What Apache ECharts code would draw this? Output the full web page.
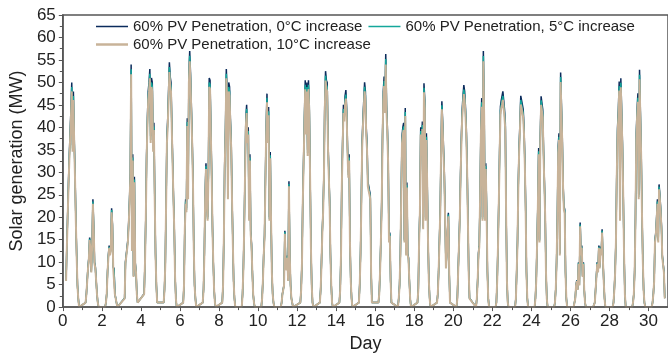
<!DOCTYPE html>
<html>
<head>
<meta charset="utf-8">
<title>Solar generation</title>
<script src="https://cdn.jsdelivr.net/npm/echarts@6/dist/echarts.min.js"></script>
<style>
	html, body { margin: 0; padding: 0; background: #fff; }
	#chart { width: 668px; height: 358px; }
</style>
</head>
<body>
<div id="chart"></div>
<script>
	// hourly values, hours 4..20 of each day (night = 0)
	var firstHour = 4;

	var seriesNames = [
		'60% PV Penetration, 0°C increase',
		'60% PV Penetration, 5°C increase',
		'60% PV Penetration, 10°C increase'
	];

	// 0°C increase (MW)
	var pv0C = [
		[6,14,21,28,34,39,44,50,36,48,38,30,20,12,5,2,0],
		[1,3,6,9,11,15.5,13,8,14,24,18,10,9,6,3,1,0],
		[0,1,3,8,11.5,13.7,12,13,22,18.5,9,8.5,3,2,1,0,0],
		[2,10,10,10,15,19,24,30,54,13,34,7,29,10,8,3,1],
		[3,10,20,34,42,48,50,53,38,51,50,36,41,25,12,5,1],
		[1,4,10,24,38,42,48,54.5,51.3,50,41,33,25,18,7,2,0],
		[1,5,18,24,22,42,25,52,57,52,45,38,29,13.7,5,2,0],
		[1,4,12,25,32,24,20,30,51,50.5,40,30,18,10,4,1,0],
		[1,5,16,32,40,53,48,25,50,49,42,37,25,15,6,2,0],
		[0,3,9,18,30,42,45,38,40,20,34,17,14,8,3,1,0],
		[0,2,6,12,16,28,40,47.5,38,44.5,20,34.5,20,8,3,1,0],
		[0,1,3,3,5,17,10,8.5,11.5,6,28,12,5,2,1,0,0],
		[1,4,10,24,24,42,50.5,40,50,35,50.5,45,30,14,5,1,0],
		[1,4,10,17,22,30,45,52.5,50.5,50,37,30.5,24,12,5,1,0],
		[1,4,12,28,37,45,43,47,48.3,44,35.8,30,34,15,6,2,0],
		[1,5,12,24,37,42,46,50,48,40,36.5,28,27,26,25,8,1],
		[1,3,8,15,23,38,48,51.3,45,56.3,45,40,32.8,15,16.6,6,1],
		[0,2,5,12,25,38,40,41,15,44.3,12,27.7,12,11,6,2,0],
		[1,4,15,22,40,35,41.3,18,49.8,46,20,38.7,27.7,15,6,2,0],
		[1,3,8,15,21.8,35,45.8,41,41,30,20.3,9,12,17,21,8,1],
		[0,2,8,14,20,30,38,44,47,49.4,48,44.6,40,32,20,8,2],
		[0,2,6,12,14,25,40,46.5,20,57,44,20,32,22,8,2,0],
		[0,1,6,14,24,35,44.6,46,47,48,46,44,41,21,6,1,0],
		[0,2,8,15,28,36,41,47,46,45,44,40,33,22.5,8,2,0],
		[0,2,6,14,23,35.4,15,38,46.9,45.4,44,35,28.4,21,8,2,0],
		[0,1,4,10,20,35.8,38.7,12,52.2,45,38,27.7,22.5,21.8,8,2,0],
		[0,0,2,5,6,4,10,5,18.8,12,13.7,7,10,4,1,0,0],
		[0,0,1,4,7,10,8,13.7,9,13.5,12,17.3,10.7,6,2,0,0],
		[0,1,4,8,15,30,40.2,44,50.2,20,50.9,44,36.5,25,12,3,0],
		[0,1,3,8,20,38.7,44,47.6,25,52.8,53.1,35,21.8,11,4,1,0],
		[0,1,3,6,15,16.6,20,24,15,27.3,25,22,18,11.5,11.5,8,2]
	];

	// 5°C increase (MW)
	var pv5C = [
		[5.9,13.7,20.6,27.4,33.3,38.2,43.1,49,35.3,47,37.2,29.4,19.6,11.8,4.9,2,0],
		[1,2.9,5.9,8.8,10.8,15.2,12.7,7.8,13.7,23.5,17.6,9.8,8.8,5.9,2.9,1,0],
		[0,1,2.9,7.8,11.3,13.4,11.8,12.7,21.6,18.1,8.8,8.3,2.9,2,1,0,0],
		[2,9.8,9.8,9.8,14.7,18.6,23.5,29.4,52.9,12.7,33.3,6.9,28.4,9.8,7.8,2.9,1],
		[2.9,9.8,19.6,33.3,41.2,47,49,51.9,37.2,50,49,35.3,40.2,24.5,11.8,4.9,1],
		[1,3.9,9.8,23.5,37.2,41.2,47,53.4,50.3,49,40.2,32.3,24.5,17.6,6.9,2,0],
		[1,4.9,17.6,23.5,21.6,41.2,24.5,51,55.9,51,44.1,37.2,28.4,13.4,4.9,2,0],
		[1,3.9,11.8,24.5,31.4,23.5,19.6,29.4,50,49.5,39.2,29.4,17.6,9.8,3.9,1,0],
		[1,4.9,15.7,31.4,39.2,51.9,47,24.5,49,48,41.2,36.3,24.5,14.7,5.9,2,0],
		[0,2.9,8.8,17.6,29.4,41.2,44.1,37.2,39.2,19.6,33.3,16.7,13.7,7.8,2.9,1,0],
		[0,2,5.9,11.8,15.7,27.4,39.2,46.6,37.2,43.6,19.6,33.8,19.6,7.8,2.9,1,0],
		[0,1,2.9,2.9,4.9,16.7,9.8,8.3,11.3,5.9,27.4,11.8,4.9,2,1,0,0],
		[1,3.9,9.8,23.5,23.5,41.2,49.5,39.2,49,34.3,49.5,44.1,29.4,13.7,4.9,1,0],
		[1,3.9,9.8,16.7,21.6,29.4,44.1,51.5,49.5,49,36.3,29.9,23.5,11.8,4.9,1,0],
		[1,3.9,11.8,27.4,36.3,44.1,42.1,46.1,47.3,43.1,35.1,29.4,33.3,14.7,5.9,2,0],
		[1,4.9,11.8,23.5,36.3,41.2,45.1,49,47,39.2,35.8,27.4,26.5,25.5,24.5,7.8,1],
		[1,2.9,7.8,14.7,22.5,37.2,47,50.3,44.1,55.2,44.1,39.2,32.1,14.7,16.3,5.9,1],
		[0,2,4.9,11.8,24.5,37.2,39.2,40.2,14.7,43.4,11.8,27.1,11.8,10.8,5.9,2,0],
		[1,3.9,14.7,21.6,39.2,34.3,40.5,17.6,48.8,45.1,19.6,37.9,27.1,14.7,5.9,2,0],
		[1,2.9,7.8,14.7,21.4,34.3,44.9,40.2,40.2,29.4,19.9,8.8,11.8,16.7,20.6,7.8,1],
		[0,2,7.8,13.7,19.6,29.4,37.2,43.1,46.1,48.4,47,43.7,39.2,31.4,19.6,7.8,2],
		[0,2,5.9,11.8,13.7,24.5,39.2,45.6,19.6,55.9,43.1,19.6,31.4,21.6,7.8,2,0],
		[0,1,5.9,13.7,23.5,34.3,43.7,45.1,46.1,47,45.1,43.1,40.2,20.6,5.9,1,0],
		[0,2,7.8,14.7,27.4,35.3,40.2,46.1,45.1,44.1,43.1,39.2,32.3,22.1,7.8,2,0],
		[0,2,5.9,13.7,22.5,34.7,14.7,37.2,46,44.5,43.1,34.3,27.8,20.6,7.8,2,0],
		[0,1,3.9,9.8,19.6,35.1,37.9,11.8,51.2,44.1,37.2,27.1,22.1,21.4,7.8,2,0],
		[0,0,2,4.9,5.9,3.9,9.8,4.9,18.4,11.8,13.4,6.9,9.8,3.9,1,0,0],
		[0,0,1,3.9,6.9,9.8,7.8,13.4,8.8,13.2,11.8,17,10.5,5.9,2,0,0],
		[0,1,3.9,7.8,14.7,29.4,39.4,43.1,49.2,19.6,49.9,43.1,35.8,24.5,11.8,2.9,0],
		[0,1,2.9,7.8,19.6,37.9,43.1,46.6,24.5,51.7,52,34.3,21.4,10.8,3.9,1,0],
		[0,1,2.9,5.9,14.7,16.3,19.6,23.5,14.7,26.8,24.5,21.6,17.6,11.3,11.3,7.8,2]
	];

	// 10°C increase (MW)
	var pv10C = [
		[5.8,13.4,20.2,26.9,32.6,37.4,42.2,48,34.6,46.1,36.5,28.8,19.2,11.5,4.8,1.9,0],
		[1,2.9,5.8,8.6,10.6,14.9,12.5,7.7,13.4,23,17.3,9.6,8.6,5.8,2.9,1,0],
		[0,1,2.9,7.7,11,13.2,11.5,12.5,21.1,17.8,8.6,8.2,2.9,1.9,1,0,0],
		[1.9,9.6,9.6,9.6,14.4,18.2,23,28.8,51.8,12.5,32.6,6.7,27.8,9.6,7.7,2.9,1],
		[2.9,9.6,19.2,32.6,40.3,46.1,48,50.9,36.5,49,48,34.6,39.4,24,11.5,4.8,1],
		[1,3.8,9.6,23,36.5,40.3,46.1,52.3,49.2,48,39.4,31.7,24,17.3,6.7,1.9,0],
		[1,4.8,17.3,23,21.1,40.3,24,49.9,54.7,49.9,43.2,36.5,27.8,13.2,4.8,1.9,0],
		[1,3.8,11.5,24,30.7,23,19.2,28.8,49,48.5,38.4,28.8,17.3,9.6,3.8,1,0],
		[1,4.8,15.4,30.7,38.4,50.9,46.1,24,48,47,40.3,35.5,24,14.4,5.8,1.9,0],
		[0,2.9,8.6,17.3,28.8,40.3,43.2,36.5,38.4,19.2,32.6,16.3,13.4,7.7,2.9,1,0],
		[0,1.9,5.8,11.5,15.4,26.9,38.4,45.6,36.5,42.7,19.2,33.1,19.2,7.7,2.9,1,0],
		[0,1,2.9,2.9,4.8,16.3,9.6,8.2,11,5.8,26.9,11.5,4.8,1.9,1,0,0],
		[1,3.8,9.6,23,23,40.3,48.5,38.4,48,33.6,48.5,43.2,28.8,13.4,4.8,1,0],
		[1,3.8,9.6,16.3,21.1,28.8,43.2,50.4,48.5,48,35.5,29.3,23,11.5,4.8,1,0],
		[1,3.8,11.5,26.9,35.5,43.2,41.3,45.1,46.4,42.2,34.4,28.8,32.6,14.4,5.8,1.9,0],
		[1,4.8,11.5,23,35.5,40.3,44.2,48,46.1,38.4,35,26.9,25.9,25,24,7.7,1],
		[1,2.9,7.7,14.4,22.1,36.5,46.1,49.2,43.2,54,43.2,38.4,31.5,14.4,15.9,5.8,1],
		[0,1.9,4.8,11.5,24,36.5,38.4,39.4,14.4,42.5,11.5,26.6,11.5,10.6,5.8,1.9,0],
		[1,3.8,14.4,21.1,38.4,33.6,39.6,17.3,47.8,44.2,19.2,37.2,26.6,14.4,5.8,1.9,0],
		[1,2.9,7.7,14.4,20.9,33.6,44,39.4,39.4,28.8,19.5,8.6,11.5,16.3,20.2,7.7,1],
		[0,1.9,7.7,13.4,19.2,28.8,36.5,42.2,45.1,47.4,46.1,42.8,38.4,30.7,19.2,7.7,1.9],
		[0,1.9,5.8,11.5,13.4,24,38.4,44.6,19.2,54.7,42.2,19.2,30.7,21.1,7.7,1.9,0],
		[0,1,5.8,13.4,23,33.6,42.8,44.2,45.1,46.1,44.2,42.2,39.4,20.2,5.8,1,0],
		[0,1.9,7.7,14.4,26.9,34.6,39.4,45.1,44.2,43.2,42.2,38.4,31.7,21.6,7.7,1.9,0],
		[0,1.9,5.8,13.4,22.1,34,14.4,36.5,45,43.6,42.2,33.6,27.3,20.2,7.7,1.9,0],
		[0,1,3.8,9.6,19.2,34.4,37.2,11.5,50.1,43.2,36.5,26.6,21.6,20.9,7.7,1.9,0],
		[0,0,1.9,4.8,5.8,3.8,9.6,4.8,18,11.5,13.2,6.7,9.6,3.8,1,0,0],
		[0,0,1,3.8,6.7,9.6,7.7,13.2,8.6,13,11.5,16.6,10.3,5.8,1.9,0,0],
		[0,1,3.8,7.7,14.4,28.8,38.6,42.2,48.2,19.2,48.9,42.2,35,24,11.5,2.9,0],
		[0,1,2.9,7.7,19.2,37.2,42.2,45.7,24,50.7,51,33.6,20.9,10.6,3.8,1,0],
		[0,1,2.9,5.8,14.4,15.9,19.2,23,14.4,26.2,24,21.1,17.3,11,11,7.7,1.9]
	];

	var colors = ['#0b2b5c', '#14a79b', '#c8b399'];
	var font = 'Liberation Sans, Arial, sans-serif';

	// day arrays -> [day, MW] pairs
	function toPoints(days) {
		var pts = [];
		days.forEach(function (vals, d) {
			vals.forEach(function (v, i) {
				pts.push([d + (firstHour + i) / 24, v]);
			});
		});
		return pts;
	}

	function lineSeries(idx, data, width) {
		return {
			name: seriesNames[idx],
			type: 'line',
			data: toPoints(data),
			symbol: 'none',
			showSymbol: false,
			z: 2 + idx,
			lineStyle: {
				color: colors[idx],
				width: width
			},
			itemStyle: {
				color: colors[idx]
			}
		};
	}

	function legendBox(names, top, lineH) {
		return {
			data: names,
			left: 96,
			top: top,
			padding: 0,
			icon: 'rect',
			itemWidth: 32,
			itemHeight: lineH,
			itemGap: 6,
			textStyle: {
				color: '#222',
				fontSize: 15,
				fontFamily: font
			}
		};
	}

	var chart = echarts.init(document.getElementById('chart'));

	var option = {
		animation: false,
		backgroundColor: '#fff',
		textStyle: {
			fontFamily: font
		},
		grid: {
			left: 61,
			right: -4,
			top: 15,
			bottom: 49,
			show: true,
			borderColor: '#555',
			borderWidth: 1.5
		},
		//图例
		legend: [
			legendBox([seriesNames[0], seriesNames[1]], 19, 1.5),
			legendBox([seriesNames[2]], 37, 2.5)
		],
		//x轴
		xAxis: {
			type: 'value',
			min: 0,
			max: 31,
			interval: 2,
			z: 10,
			name: 'Day',
			nameLocation: 'middle',
			nameGap: 25,
			nameTextStyle: {
				color: '#222',
				fontSize: 18,
				fontFamily: font
			},
			splitLine: { show: false },
			axisLine: {
				lineStyle: { color: '#555', width: 1.5 }
			},
			axisTick: {
				length: 4,
				lineStyle: { color: '#555', width: 1 }
			},
			minorTick: {
				show: true,
				splitNumber: 2,
				length: 3,
				lineStyle: { color: '#555', width: 1 }
			},
			axisLabel: {
				color: '#222',
				fontSize: 17,
				margin: 6,
				showMaxLabel: false,
				fontFamily: font
			}
		},
		//y轴
		yAxis: {
			type: 'value',
			min: 0,
			max: 65,
			interval: 5,
			z: 10,
			name: 'Solar generation (MW)',
			nameLocation: 'middle',
			nameGap: 33,
			nameTextStyle: {
				color: '#222',
				fontSize: 18,
				fontFamily: font
			},
			splitLine: { show: false },
			axisLine: {
				show: true,
				lineStyle: { color: '#555', width: 1.5 }
			},
			axisTick: {
				length: 4,
				lineStyle: { color: '#555', width: 1 }
			},
			minorTick: {
				show: true,
				splitNumber: 2,
				length: 3,
				lineStyle: { color: '#555', width: 1 }
			},
			axisLabel: {
				color: '#222',
				fontSize: 17,
				margin: 7,
				fontFamily: font
			}
		},
		//系列列表
		series: [
			lineSeries(0, pv0C, 1.5),
			lineSeries(1, pv5C, 1.5),
			lineSeries(2, pv10C, 2)
		]
	};

	chart.setOption(option);
</script>
</body>
</html>
